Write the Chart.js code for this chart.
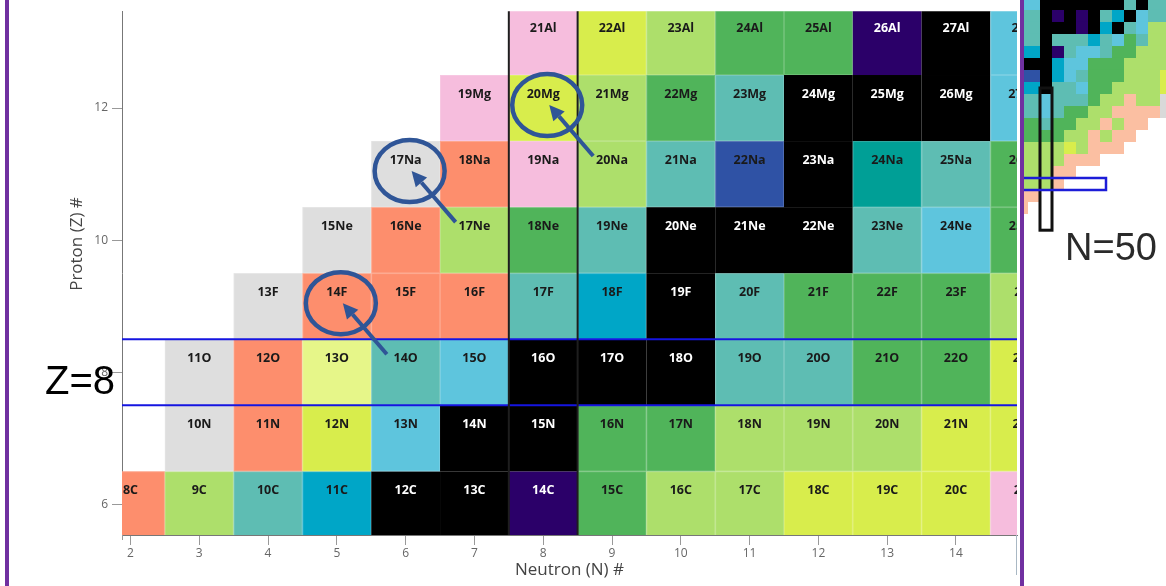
<!DOCTYPE html>
<html>
<head>
<meta charset="utf-8">
<script src="https://cdn.jsdelivr.net/npm/chart.js@4.4.1/dist/chart.umd.min.js"></script>
<style>
  html, body { margin: 0; padding: 0; background: #fff; }
  body { width: 1166px; height: 586px; position: relative; overflow: hidden; }
  #main { position: absolute; left: 0; top: 0; width: 1020px; height: 586px; }
  #inset { position: absolute; left: 1024px; top: 0; width: 142px; height: 290px; }
  #inset canvas { filter: blur(0.5px); }
  .rule { position: absolute; top: 0; width: 4px; height: 586px; background: #7030a0; }
</style>
</head>
<body>
<div id="main"><canvas id="chart"></canvas></div>
<div id="inset"><canvas id="overview"></canvas></div>
<div class="rule" style="left:5px"></div>
<div class="rule" style="left:1020px"></div>
<script>
// ---- isotopes, one row per element (lightest isotope first) ----
const elementSymbols = ['C', 'N', 'O', 'F', 'Ne', 'Na', 'Mg', 'Al'];
const protonNumbers  = [6, 7, 8, 9, 10, 11, 12, 13];
const firstNeutron   = [2, 3, 3, 4, 5, 6, 7, 8];

// half-life class of each isotope, in order of increasing N
const classC  = ['s', 'L', 't', 'c', 'k', 'k', 'p', 'g', 'L', 'L', 'y', 'y', 'y', 'P'];
const classN  = ['e', 's', 'y', 'l', 'k', 'k', 'g', 'g', 'L', 'L', 'L', 'y', 'y'];
const classO  = ['e', 's', 'Y', 't', 'l', 'k', 'k', 'k', 't', 't', 'g', 'g', 'y'];
const classF  = ['e', 's', 's', 's', 't', 'c', 'k', 't', 'g', 'g', 'g', 'L'];
const classNe = ['e', 's', 'L', 'g', 't', 'k', 'k', 'k', 't', 'l', 'g'];
const classNa = ['e', 's', 'P', 'L', 't', 'b', 'k', 'd', 't', 'g'];
const classMg = ['P', 'y', 'L', 'g', 't', 'k', 'k', 'k', 'l'];
const classAl = ['P', 'y', 'L', 'g', 'g', 'p', 'k', 'l'];
const rowClasses = [classC, classN, classO, classF, classNe, classNa, classMg, classAl];

// axis ticks
const neutronTicks = [2, 3, 4, 5, 6, 7, 8, 9, 10, 11, 12, 13, 14];
const protonTicks  = [6, 8, 10, 12];

// marked isotopes (17Na, 20Mg, 14F) and the magic-number row / column
const markedN = [6, 8, 5];
const markedZ = [11, 12, 9];
const magicZ = 8;
const magicN = 8;

// coarse overview of the wider chart, one string per proton row (top row first)
const overviewRows = [
  'llkkkkkkktktt',
  'ttkpkpktckltt',
  'ttkkkpkcktlLL',
  'ttktttctlgtLL',
  'cckptlltggLLL',
  'kkkcllgggLLLL',
  'bbkcltgggLLLy',
  'cckttlggLLLLy',
  'ttltttgLLsLLe',
  'ttltggLLsssse',
  'ggtggLLsLssww',
  'ggggLLsLsswww',
  'LLLLyLssswwww',
  'LLLLssswwwwww',
  'LLLsswwwwwwww',
  'LLLswwwwwwwww',
  'sswwwwwwwwwww',
  'swwwwwwwwwwww'
];
const overviewMagicRow = 15;
const overviewMagicCol = 2;

// ---- colours ----
const palette = {
  k: '#000000', p: '#2b0069', b: '#2f52a5', c: '#00a6c7', l: '#5ec5dd',
  t: '#5ebdb3', d: '#009f96', g: '#50b45a', L: '#addf6b', y: '#d8ed4c',
  Y: '#e6f689', s: '#fd8e6d', P: '#f6bddd', e: '#dedede', w: '#ffffff'
};
const overviewPalette = Object.assign({}, palette, { s: '#fbbfa2', e: '#d9d9d9' });
const darkClasses = ['k', 'p'];
const ringColor = '#2f5597';

// ---- datasets built from the rows ----
const datasets = elementSymbols.map((sym, i) => ({
  label: sym,
  data: rowClasses[i].map((cls, j) => {
    const n = firstNeutron[i] + j;
    const z = protonNumbers[i];
    return { x: n, y: z, cls: cls, text: (n + z) + sym };
  }),
  pointRadius: 0,
  pointHoverRadius: 0,
  showLine: false
}));

function drawCells(chart, colors, withText) {
  const { ctx, chartArea: a, scales: { x, y } } = chart;
  ctx.save();
  ctx.beginPath();
  ctx.rect(a.left, a.top, a.right - a.left, a.bottom - a.top);
  ctx.clip();
  chart.data.datasets.forEach(ds => ds.data.forEach(p => {
    const x0 = x.getPixelForValue(p.x - 0.5), x1 = x.getPixelForValue(p.x + 0.5);
    const y0 = y.getPixelForValue(p.y + 0.5), y1 = y.getPixelForValue(p.y - 0.5);
    const top = Math.min(y0, y1), h = Math.abs(y1 - y0);
    ctx.fillStyle = colors[p.cls];
    ctx.fillRect(x0, top, x1 - x0, h);
    if (withText && !darkClasses.includes(p.cls)) {
      ctx.strokeStyle = 'rgba(255,255,255,0.16)';
      ctx.lineWidth = 1;
      ctx.strokeRect(x0 + 0.5, top + 0.5, x1 - x0 - 1, h - 1);
    }
  }));
  if (withText) {
    ctx.font = 'bold 12.5px "Open Sans"';
    ctx.textAlign = 'center';
    ctx.textBaseline = 'middle';
    chart.data.datasets.forEach(ds => ds.data.forEach(p => {
      ctx.fillStyle = darkClasses.includes(p.cls) ? '#ffffff' : '#1a1a1a';
      ctx.fillText(p.text, x.getPixelForValue(p.x), y.getPixelForValue(p.y) - 14);
    }));
  }
  ctx.restore();
}

function arrow(ctx, x0, y0, x1, y1) {
  const ang = Math.atan2(y1 - y0, x1 - x0);
  const head = 15, half = 7.5;
  const bx = x1 - head * Math.cos(ang), by = y1 - head * Math.sin(ang);
  ctx.beginPath();
  ctx.moveTo(x0, y0);
  ctx.lineTo(bx, by);
  ctx.stroke();
  ctx.beginPath();
  ctx.moveTo(x1, y1);
  ctx.lineTo(bx + half * Math.sin(ang), by - half * Math.cos(ang));
  ctx.lineTo(bx - half * Math.sin(ang), by + half * Math.cos(ang));
  ctx.closePath();
  ctx.fill();
}

const cellsPlugin = {
  id: 'nuclideCells',
  beforeDatasetsDraw(chart) { drawCells(chart, palette, true); },
  afterDatasetsDraw(chart) {
    const { ctx, chartArea: a, scales: { x, y } } = chart;
    ctx.save();
    // Z = 8 row
    ctx.strokeStyle = '#1515e0';
    ctx.lineWidth = 2;
    [magicZ - 0.5, magicZ + 0.5].forEach(v => {
      const py = y.getPixelForValue(v);
      ctx.beginPath(); ctx.moveTo(a.left, py); ctx.lineTo(a.right, py); ctx.stroke();
    });
    // N = 8 column
    ctx.strokeStyle = '#1e1e1e';
    [magicN - 0.5, magicN + 0.5].forEach(v => {
      const px = x.getPixelForValue(v);
      ctx.beginPath(); ctx.moveTo(px, a.top); ctx.lineTo(px, a.bottom); ctx.stroke();
    });
    // rings and arrows
    ctx.strokeStyle = ringColor;
    ctx.fillStyle = ringColor;
    markedN.forEach((n, i) => {
      const cx = x.getPixelForValue(n), cy = y.getPixelForValue(markedZ[i]);
      ctx.lineWidth = 4.5;
      ctx.beginPath();
      ctx.ellipse(cx + 4, cy - 3, 35, 31, 0, 0, Math.PI * 2);
      ctx.stroke();
      ctx.lineWidth = 4;
      arrow(ctx, cx + 50, cy + 48, cx + 6, cy - 3);
    });
    ctx.restore();
  },
  afterDraw(chart) {
    const { ctx, chartArea: a } = chart;
    // axis stubs below the plot corners
    ctx.save();
    ctx.lineWidth = 1;
    ctx.strokeStyle = '#999';
    ctx.beginPath(); ctx.moveTo(a.left + 0.5, a.bottom); ctx.lineTo(a.left + 0.5, a.bottom + 5); ctx.stroke();
    ctx.strokeStyle = '#a9b8c4';
    ctx.beginPath(); ctx.moveTo(a.right - 0.5, a.bottom); ctx.lineTo(a.right - 0.5, a.bottom + 40); ctx.stroke();
    ctx.restore();
    // y axis title
    ctx.save();
    ctx.fillStyle = '#444';
    ctx.font = '17px "Open Sans"';
    ctx.textAlign = 'center';
    ctx.textBaseline = 'middle';
    ctx.translate(77, 244);
    ctx.rotate(-Math.PI / 2);
    ctx.fillText('Proton (Z) #', 0, 0);
    ctx.restore();
    // magic row label
    ctx.save();
    ctx.fillStyle = '#000';
    ctx.font = '40px "Liberation Sans"';
    ctx.textAlign = 'left';
    ctx.textBaseline = 'alphabetic';
    ctx.fillText('Z=' + magicZ, 45, chart.scales.y.getPixelForValue(magicZ) + 22);
    ctx.restore();
  }
};

new Chart(document.getElementById('chart'), {
  type: 'scatter',
  data: { datasets: datasets },
  options: {
    responsive: true,
    maintainAspectRatio: false,
    animation: false,
    events: [],
    layout: { padding: { top: 5, right: 3, left: 0, bottom: 0 } },
    plugins: { legend: { display: false }, tooltip: { enabled: false } },
    scales: {
      x: {
        type: 'linear',
        min: 1.877,
        max: 14.887,
        afterBuildTicks: s => { s.ticks = neutronTicks.map(v => ({ value: v })); },
        afterFit: s => { s.height = 51; },
        grid: { drawOnChartArea: false, drawTicks: true, tickLength: 10, color: '#999' },
        border: { display: true, color: '#777', width: 1 },
        ticks: { color: '#666', font: { family: 'Open Sans', size: 12 }, padding: 1, maxRotation: 0 },
        title: {
          display: true, text: 'Neutron (N) #', color: '#444',
          font: { family: 'Open Sans', size: 17 }, padding: { top: 0, bottom: 6 }
        }
      },
      y: {
        type: 'linear',
        min: 5.536,
        max: 13.466,
        afterBuildTicks: s => { s.ticks = protonTicks.map(v => ({ value: v })); },
        afterFit: s => { s.width = 122; },
        grid: { drawOnChartArea: false, drawTicks: true, tickLength: 10, color: '#999' },
        border: { display: true, color: '#777', width: 1 },
        ticks: { color: '#666', font: { family: 'Open Sans', size: 12 }, padding: 4 }
      }
    }
  },
  plugins: [cellsPlugin]
});

// ---- overview of the wider chart ----
const overviewData = [];
overviewRows.forEach((row, r) => {
  Array.from(row).forEach((cls, c) => overviewData.push({ x: c, y: r, cls: cls }));
});

const overviewPlugin = {
  id: 'overviewCells',
  beforeDatasetsDraw(chart) { drawCells(chart, overviewPalette, false); },
  afterDatasetsDraw(chart) {
    const { ctx, scales: { x, y } } = chart;
    ctx.save();
    // N = 50 column
    ctx.strokeStyle = '#111';
    ctx.lineWidth = 3;
    const cx0 = x.getPixelForValue(overviewMagicCol - 0.5), cx1 = x.getPixelForValue(overviewMagicCol + 0.5);
    const cy0 = y.getPixelForValue(7), cy1 = y.getPixelForValue(18.85);
    ctx.strokeRect(cx0, cy0, cx1 - cx0, cy1 - cy0);
    // Z = 8 row
    ctx.strokeStyle = '#1c1cd8';
    ctx.lineWidth = 2.5;
    const rx0 = x.getPixelForValue(-1), rx1 = x.getPixelForValue(7);
    const ry0 = y.getPixelForValue(overviewMagicRow - 0.5), ry1 = y.getPixelForValue(overviewMagicRow + 0.5);
    ctx.strokeRect(rx0, ry0, rx1 - rx0, ry1 - ry0);
    // label
    ctx.fillStyle = '#2a2a2a';
    ctx.font = '38px "Liberation Sans"';
    ctx.textAlign = 'left';
    ctx.textBaseline = 'alphabetic';
    ctx.fillText('N=50', 41, 260);
    ctx.restore();
  }
};

new Chart(document.getElementById('overview'), {
  type: 'scatter',
  data: { datasets: [{ data: overviewData, pointRadius: 0, pointHoverRadius: 0, showLine: false }] },
  options: {
    responsive: true,
    maintainAspectRatio: false,
    animation: false,
    events: [],
    layout: { padding: 0 },
    plugins: { legend: { display: false }, tooltip: { enabled: false } },
    scales: {
      x: { type: 'linear', display: false, min: 0.1667, max: 12 },
      y: { type: 'linear', display: false, reverse: true, min: -0.333, max: 23.833 }
    }
  },
  plugins: [overviewPlugin]
});
</script>
</body>
</html>
